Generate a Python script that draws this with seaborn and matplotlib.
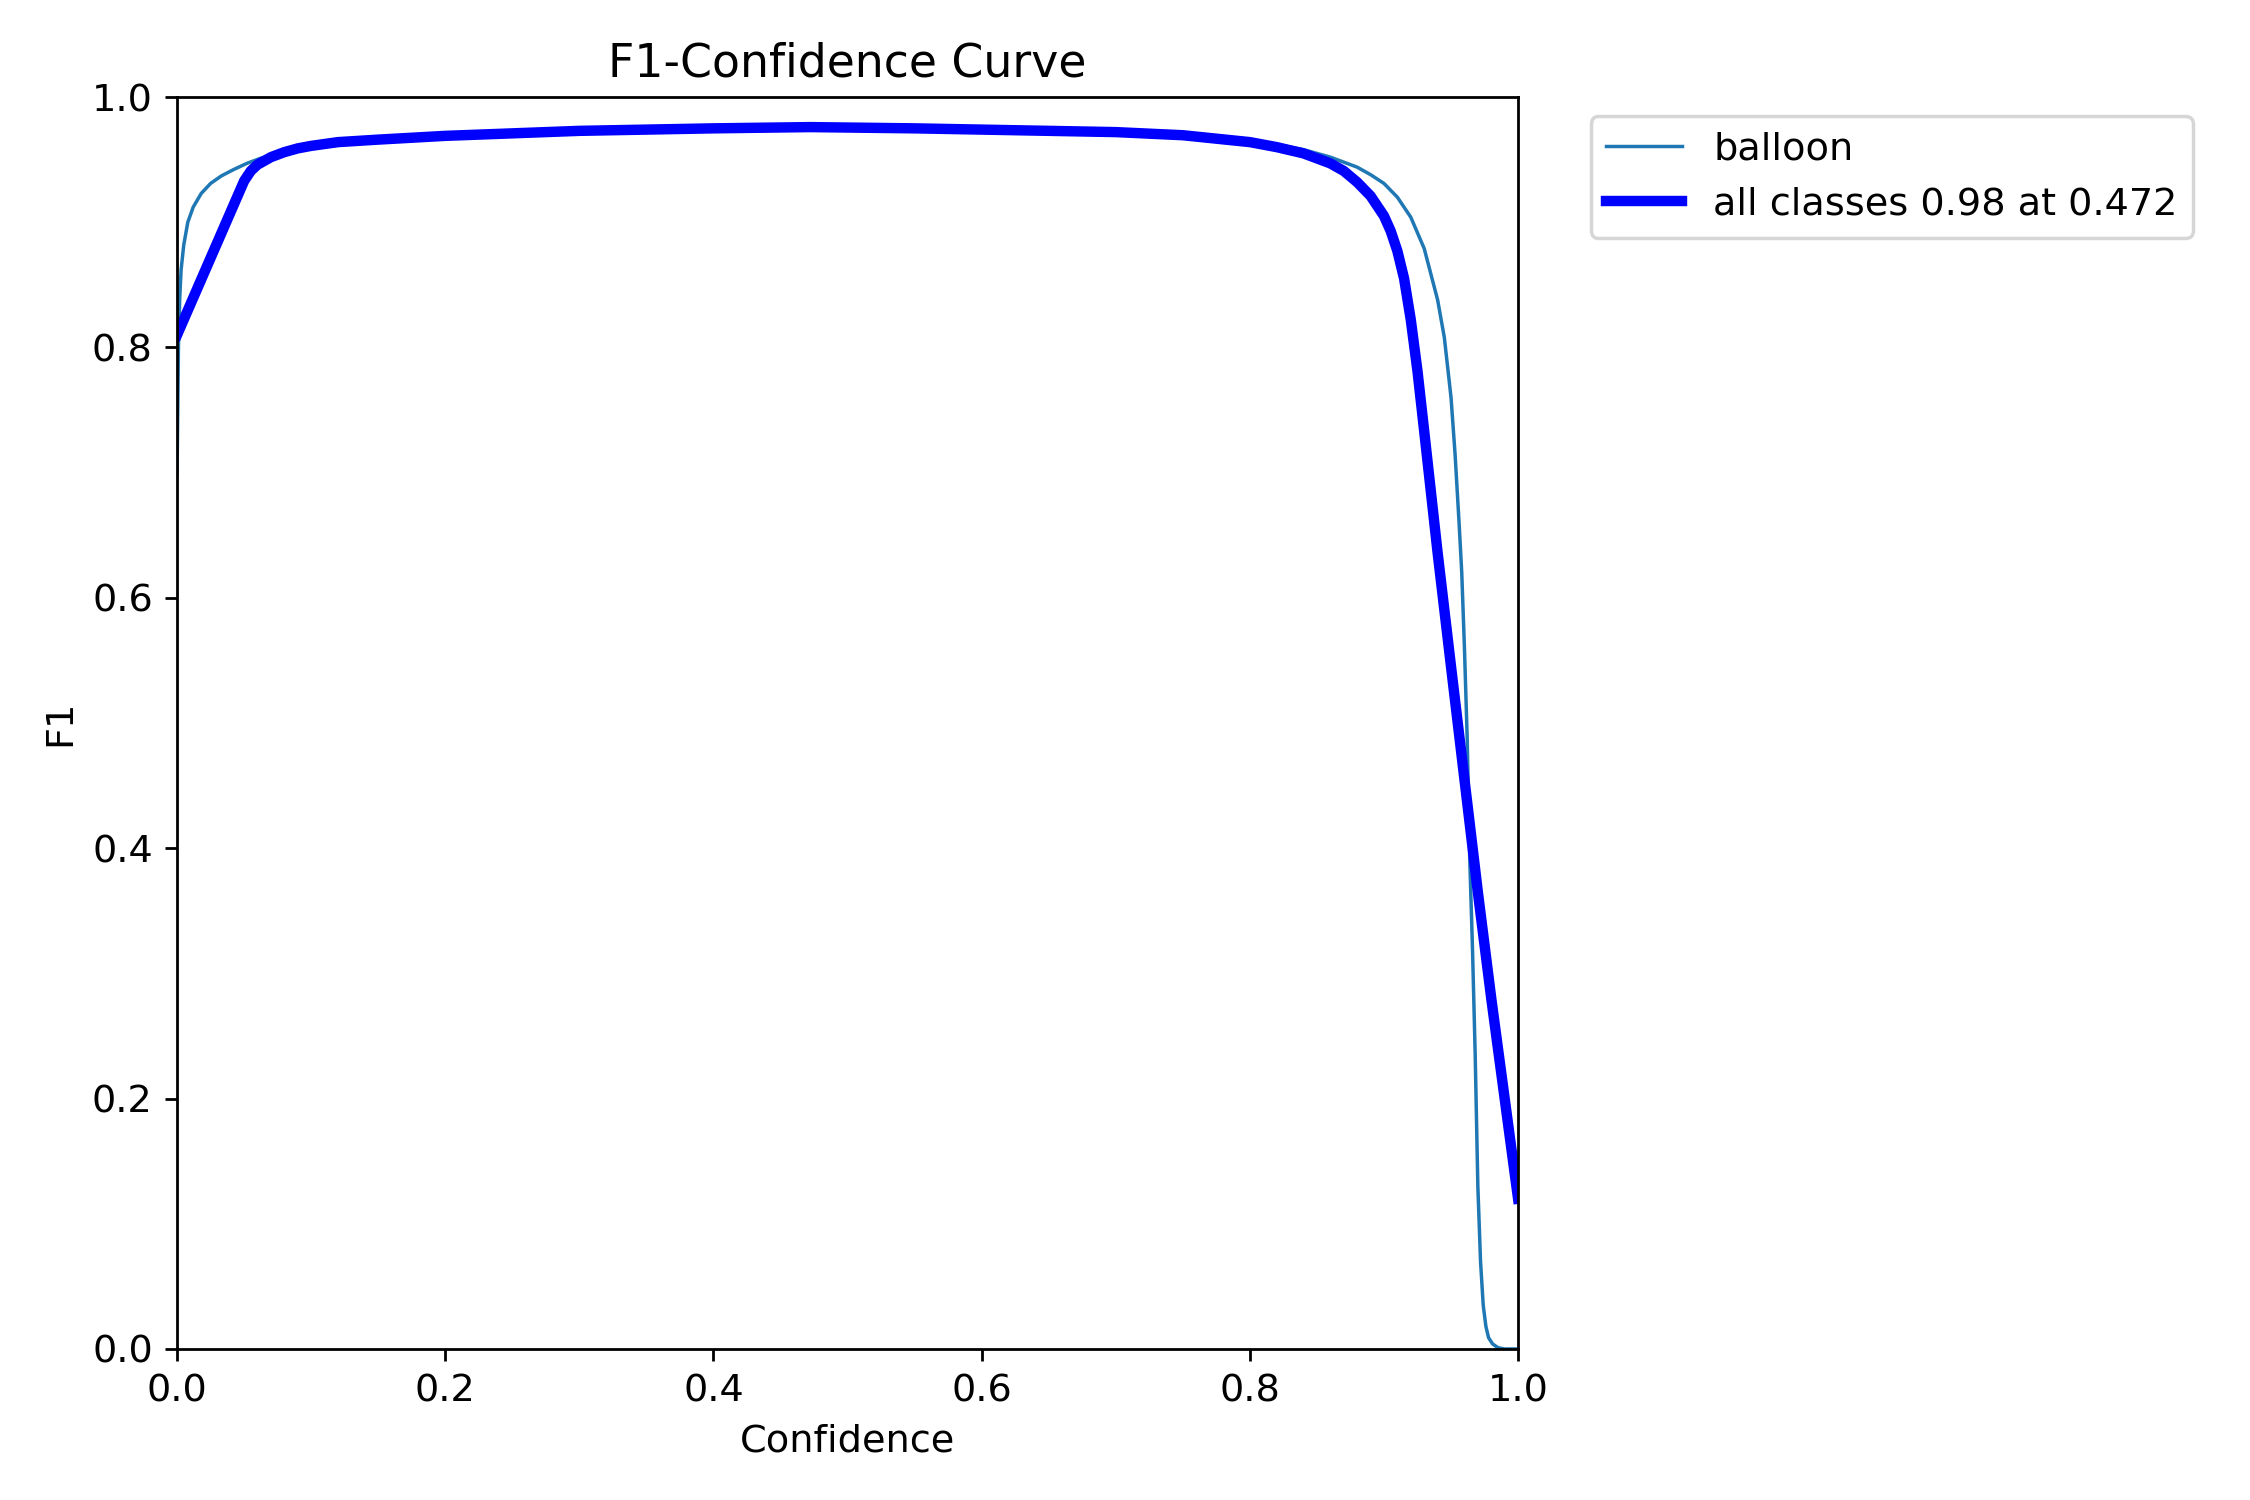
import numpy as np
import pandas as pd
import matplotlib
matplotlib.use("Agg")
import matplotlib.pyplot as plt
import seaborn as sns

# Per-class F1 curve ("balloon")
balloon_conf = [0.0, 0.0005, 0.001, 0.002, 0.003, 0.005, 0.008, 0.012, 0.018, 0.025,
                0.033, 0.042, 0.052, 0.062, 0.08, 0.1, 0.15, 0.2, 0.25, 0.3,
                0.35, 0.4, 0.472, 0.55, 0.6, 0.65, 0.7, 0.75, 0.8, 0.84,
                0.86, 0.87, 0.88, 0.89, 0.90, 0.91, 0.92, 0.93, 0.94, 0.945,
                0.95, 0.953, 0.956, 0.958, 0.960, 0.962, 0.964, 0.966, 0.968, 0.970,
                0.972, 0.974, 0.976, 0.978, 0.981, 0.985, 0.99, 1.0]
balloon_f1 = [0.70, 0.75, 0.80, 0.84, 0.862, 0.882, 0.900, 0.912, 0.923, 0.931,
              0.937, 0.942, 0.947, 0.951, 0.956, 0.960, 0.966, 0.969, 0.971, 0.973,
              0.974, 0.975, 0.976, 0.975, 0.974, 0.973, 0.972, 0.970, 0.966, 0.958,
              0.952, 0.948, 0.944, 0.938, 0.931, 0.920, 0.904, 0.879, 0.838, 0.808,
              0.760, 0.715, 0.660, 0.620, 0.560, 0.490, 0.390, 0.320, 0.236, 0.130,
              0.070, 0.035, 0.018, 0.009, 0.004, 0.001, 0.0, 0.0]

# All-classes (smoothed) F1 curve
all_conf = [0.0, 0.05, 0.055, 0.06, 0.07, 0.08, 0.09, 0.1, 0.12, 0.15,
            0.2, 0.25, 0.3, 0.35, 0.4, 0.472, 0.55, 0.6, 0.65, 0.7,
            0.75, 0.8, 0.82, 0.84, 0.86, 0.87, 0.88, 0.89, 0.90, 0.905,
            0.91, 0.915, 0.92, 0.925, 0.93, 0.94, 0.95, 0.96, 0.97, 0.98,
            0.99, 1.0]
all_f1 = [0.81, 0.933, 0.941, 0.946, 0.952, 0.956, 0.959, 0.961, 0.964, 0.966,
          0.969, 0.971, 0.973, 0.974, 0.975, 0.976, 0.975, 0.974, 0.973, 0.972,
          0.9695, 0.964, 0.960, 0.955, 0.947, 0.941, 0.932, 0.921, 0.905, 0.893,
          0.877, 0.855, 0.822, 0.781, 0.733, 0.636, 0.545, 0.455, 0.365, 0.280,
          0.200, 0.120]

class_name = "balloon"
all_label = "all classes 0.98 at 0.472"

df_b = pd.DataFrame({"Confidence": balloon_conf, "F1": balloon_f1})
df_a = pd.DataFrame({"Confidence": all_conf, "F1": all_f1})

plt.rcParams["font.size"] = 11
plt.rcParams["axes.titlesize"] = 13.2

fig, ax = plt.subplots(figsize=(9, 6), dpi=250)
fig.subplots_adjust(left=0.0787, right=0.6747, bottom=0.1007, top=0.9353)

sns.lineplot(data=df_b, x="Confidence", y="F1", ax=ax, color="#1f77b4",
             linewidth=1, label=class_name, sort=False, estimator=None)
sns.lineplot(data=df_a, x="Confidence", y="F1", ax=ax, color="blue",
             linewidth=3, label=all_label, sort=False, estimator=None)

ax.set_xlim(0, 1)
ax.set_ylim(0, 1)
ax.set_xlabel("Confidence")
ax.set_ylabel("F1")
ax.set_title("F1-Confidence Curve")
ax.legend(bbox_to_anchor=(1.04, 1), loc="upper left")

fig.savefig("out.png", dpi=250)
